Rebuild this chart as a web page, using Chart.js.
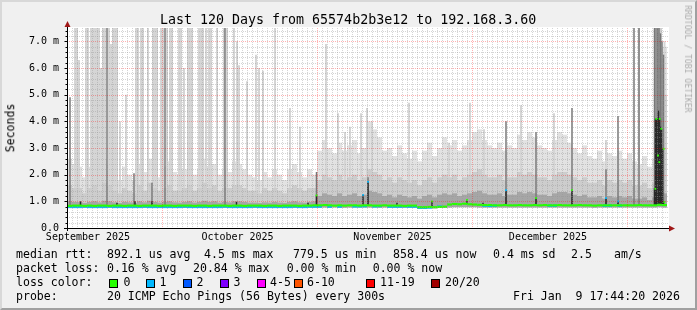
<!DOCTYPE html>
<html><head><meta charset="utf-8">
<script src="https://cdn.jsdelivr.net/npm/chart.js@4"></script>
<style>
html,body{margin:0;padding:0;background:#f0f0f0;}
#wrap{position:relative;width:697px;height:310px;overflow:hidden;background:#f0f0f0;}
#frame{position:absolute;left:0;top:0;width:697px;height:310px;box-sizing:border-box;border-top:2px solid #d8d8d8;border-left:2px solid #d8d8d8;border-right:2px solid #a0a0a0;border-bottom:2px solid #a0a0a0;pointer-events:none;}
canvas{position:absolute;left:0;top:0;}
.t{position:absolute;font-family:"DejaVu Sans Mono",monospace;white-space:pre;color:#000;line-height:1;}
.lg{font-size:11.56px;}
.box{position:absolute;width:7px;height:7px;border:1px solid #000;}
</style></head>
<body><div id="wrap">
<canvas id="c" width="697" height="310"></canvas>
<div class="t" style="left:160px;top:13px;font-size:13.3px;">Last 120 Days from 65574b2b3e12 to 192.168.3.60</div>
<div class="t" style="left:10.5px;top:127.5px;font-size:11.56px;transform:translate(-50%,-50%) rotate(-90deg);">Seconds</div>
<div class="t" style="left:688px;top:58.5px;font-size:8.1px;color:#ababab;transform:translate(-50%,-50%) rotate(90deg);">RRDTOOL / TOBI OETIKER</div>
<div id="legend"></div>
<div id="frame"></div>
</div>
<script>
// ---------- data (values in milliseconds, x in days since start of the 120-day window) ----------
const nDays = 120;
const monthLabels = ['September 2025','October 2025','November 2025','December 2025'];
const monthLabelDay = [4.2, 34.1, 65.1, 96.2];
const monthLineDay = [19, 50, 81, 112];
const yTickValues = [0,1,2,3,4,5,6,7];
const yTickLabels = ['0.0','1.0 m','2.0 m','3.0 m','4.0 m','5.0 m','6.0 m','7.0 m'];

const minRtt = [
0.77,0.76,0.77,0.77,0.76,0.77,0.76,0.77,0.77,0.76, 0.77,0.76,0.77,0.77,0.76,0.77,0.77,0.76,0.77,0.77,
0.76,0.77,0.77,0.76,0.77,0.77,0.76,0.77,0.77,0.76, 0.77,0.77,0.76,0.77,0.77,0.76,0.77,0.77,0.76,0.77,
0.77,0.76,0.77,0.77,0.76,0.77,0.77,0.76,0.77,0.77, 0.77,0.77,0.76,0.77,0.77,0.76,0.77,0.77,0.77,0.77,
0.77,0.77,0.76,0.77,0.76,0.76,0.76,0.76,0.76,0.76, 0.74,0.74,0.74,0.74,0.75,0.75,0.77,0.78,0.78,0.78,
0.78,0.78,0.77,0.77,0.77,0.77,0.77,0.77,0.77,0.77, 0.77,0.77,0.77,0.77,0.77,0.77,0.77,0.77,0.77,0.77,
0.77,0.77,0.77,0.77,0.77,0.76,0.77,0.77,0.77,0.77, 0.77,0.77,0.77,0.77,0.77,0.77,0.77,0.77,0.78,0.77];
const hazeTop = [
2.6,2.4,2.3,1.9,2.3,2.5,2.2,2.6,2.4,2.0, 1.8,2.3,2.0,1.8,2.4,2.1,2.6,2.2,1.9,2.3,
2.5,2.1,2.0,2.2,2.4,2.0,2.2,2.6,2.3,2.4, 2.0,2.2,2.1,2.5,2.4,2.2,2.0,1.9,1.8,2.1,
1.9,2.2,2.0,1.8,2.2,2.4,2.1,1.9,2.2,2.0, 2.9,3.3,3.0,2.8,3.2,2.9,3.1,3.3,2.8,3.0,
4.0,3.7,3.4,2.9,3.0,2.7,3.1,2.8,2.6,2.9, 2.5,2.9,3.2,2.7,3.0,3.4,3.1,3.3,2.9,3.1,
3.3,3.6,3.7,3.3,3.1,3.0,3.2,2.9,3.1,3.0, 3.5,3.3,3.6,3.4,3.1,3.0,2.9,3.3,3.6,3.5,
3.2,3.0,2.8,3.1,2.7,2.6,2.9,2.5,2.8,2.7, 2.9,2.6,2.8,2.5,2.4,2.7,2.3,2.6,7.5,6.8];
const midTop = [
1.6,1.5,1.5,1.3,1.5,1.6,1.4,1.7,1.6,1.4, 1.3,1.5,1.4,1.3,1.6,1.4,1.7,1.5,1.4,1.5,
1.6,1.4,1.4,1.5,1.6,1.4,1.5,1.7,1.5,1.6, 1.4,1.5,1.5,1.6,1.6,1.5,1.4,1.4,1.3,1.5,
1.4,1.5,1.4,1.3,1.5,1.6,1.5,1.4,1.5,1.5, 1.8,2.0,1.9,1.8,2.0,1.8,1.9,2.0,1.8,1.9,
2.2,2.1,2.0,1.8,1.9,1.7,1.9,1.8,1.7,1.8, 1.6,1.8,1.9,1.7,1.9,2.0,1.9,2.0,1.8,1.9,
2.0,2.1,2.2,2.0,1.9,1.9,2.0,1.8,1.9,1.9, 2.1,2.0,2.1,2.0,1.9,1.9,1.8,2.0,2.1,2.1,
2.0,1.9,1.8,1.9,1.7,1.7,1.8,1.6,1.8,1.7, 1.8,1.7,1.8,1.6,1.6,1.7,1.5,1.7,7.5,5.0];
const denseTop = [
1.00,0.98,0.97,0.94,0.98,1.00,0.96,1.02,1.00,0.96, 0.94,0.98,0.96,0.94,1.00,0.96,1.02,0.98,0.95,0.98,
1.00,0.96,0.95,0.98,1.00,0.95,0.98,1.02,0.98,1.00, 0.95,0.98,0.96,1.00,1.00,0.98,0.95,0.95,0.94,0.96,
0.95,0.98,0.95,0.94,0.98,1.00,0.96,0.95,0.98,1.00, 1.20,1.30,1.25,1.20,1.30,1.20,1.25,1.30,1.20,1.25,
1.40,1.35,1.30,1.20,1.25,1.15,1.25,1.20,1.15,1.20, 1.10,1.20,1.25,1.15,1.25,1.30,1.25,1.30,1.20,1.25,
1.30,1.35,1.40,1.30,1.25,1.25,1.30,1.20,1.25,1.25, 1.35,1.30,1.35,1.30,1.25,1.25,1.20,1.30,1.35,1.35,
1.30,1.25,1.20,1.25,1.15,1.15,1.20,1.10,1.20,1.15, 1.20,1.15,1.20,1.10,1.10,1.15,1.05,1.15,4.10,1.30];
// median rtt of samples with 0 lost pings, and of samples with 1 lost ping (null = none that day)
const median0 = [
0.83,0.84,0.84,0.83,0.84,0.83,0.84,0.84,0.83,0.84, 0.84,0.83,0.84,0.84,0.83,0.84,0.84,0.84,0.83,0.84,
0.84,0.83,0.84,0.84,0.84,0.83,0.84,0.84,0.83,0.84, 0.84,0.84,0.83,0.84,0.84,0.83,0.84,0.84,0.84,0.83,
0.84,0.84,0.83,0.84,0.84,0.84,0.83,0.84,0.84,0.85, 0.85,0.86,0.85,0.84,0.85,0.84,0.85,0.85,0.84,0.85,
0.85,0.84,0.84,0.85,0.84,0.84,0.84,0.83,0.84,0.84, 0.78,0.78,0.79,0.78,0.79,0.80,0.88,0.90,0.89,0.91,
0.89,0.88,0.87,0.86,0.86,0.85,0.85,0.86,0.85,0.85, 0.86,0.85,0.85,0.86,0.85,0.86,0.85,0.85,0.86,0.85,
0.85,0.85,0.86,0.85,0.85,0.84,0.85,0.85,0.85,0.85, 0.85,0.85,0.85,0.85,0.86,0.85,0.85,0.85,0.87,0.86];
const median1 = [
0.79,0.79,0.79,0.80,0.79,0.79,0.79,0.79,0.80,0.79, 0.79,0.79,0.79,0.79,0.79,0.80,0.79,0.79,0.79,0.79,
0.79,0.79,0.79,0.80,0.79,0.79,0.79,0.79,0.79,0.79, 0.79,0.80,0.79,0.79,0.79,0.79,0.79,0.80,0.79,0.79,
0.79,0.79,0.79,0.79,0.79,0.80,0.79,0.79,0.80,0.80, 0.80,null,0.80,null,0.80,null,null,0.81,0.81,0.82,
null,0.81,0.82,null,0.80,0.80,0.80,0.81,0.80,0.80, 0.76,0.76,0.77,null,0.80,null,null,null,null,null,
null,null,null,0.84,0.83,0.84,null,null,null,null, null,null,null,null,null,null,0.84,0.84,null,null,
null,null,null,null,null,null,null,0.84,0.84,null, 0.84,null,null,null,null,null,null,null,null,null];

// isolated tall light-smoke spikes
const spikeDay = [1.6,2.0,2.4,3.8,4.2,4.8,5.2,5.6,6.0,6.4,6.8,7.2,7.6,8.4,8.8,9.2,9.6,10.0,10.6,11.8,
13.8,14.2,14.8,15.2,16.2,17.2,17.6,18.0,18.8,19.2,20.0,20.6,21.0,22.4,22.8,23.4,24.2,24.6,25.0,26.4,
26.8,27.2,27.8,28.4,28.8,30.0,31.4,32.0,33.4,34.0,34.4,36.0,37.8,38.4,39.2,41.6,44.6,46.6,51.8,54.2,
55.6,56.6,58.8,60.0,61.0,68.4,76.4,80.6,83.4,90.8,97.4,107.8,114.4,119.5];
const spikeTop = [7.5,7.5,6.3,7.5,7.5,7.5,7.5,7.5,7.5,7.5,6.0,7.5,7.5,7.5,6.9,7.5,7.5,7.5,4.0,5.0,
7.5,7.5,7.5,7.5,7.5,7.5,7.5,7.5,7.5,7.5,7.5,7.5,7.5,7.5,7.5,6.0,7.5,7.5,7.5,7.5,
7.5,7.5,7.5,7.5,7.5,7.5,7.5,7.5,7.5,7.0,6.1,5.5,6.5,6.0,5.9,7.5,4.5,3.8,6.9,4.3,
3.6,3.8,4.3,4.5,4.0,4.7,3.2,4.7,3.7,4.6,4.3,3.3,7.5,7.0];
// thin darker smoke lines
const darkDay = [0.6,8.0,13.4,17.0,19.6,31.6,49.9,60.2,87.8,93.8,101.0,107.8,110.2,113.4,114.4,
117.5,117.8,118.1,118.4,118.7,119.0,119.3];
const darkTop = [4.9,7.5,2.05,1.7,7.5,7.5,2.1,1.9,4.0,3.6,4.5,2.2,4.2,7.5,7.5,
7.5,7.5,7.5,7.5,7.3,7.0,6.5];
// very dense (near-black) short smoke columns
const coreDay = [2.7,10.0,13.6,17.0,33.9,48.2,49.9,52.0,59.2,60.2,66.0,73.0,80.0,83.2,87.8,93.8,101.0,
107.8,110.2,117.5,117.7,117.9,118.1,118.3,118.5,118.7,118.9,119.1,119.3];
const coreTop = [1.0,0.95,1.0,1.0,0.98,0.95,1.22,0.9,1.24,1.73,0.95,1.0,1.05,0.95,1.42,1.12,1.42,
1.12,1.0,1.5,4.1,4.1,4.1,4.4,4.1,3.8,3.7,3.0,1.0];
// elevated median samples and their lost-ping count
const markDay = [49.9,59.2,60.2,73.0,80.0,87.8,93.8,101.0,107.8,110.2,117.66,117.86,118.2,118.46,118.54,118.86,119.34,119.46];
const markRtt = [1.22,1.24,1.73,1.0,1.05,1.42,1.12,1.42,1.12,1.0,1.47,4.09,2.72,2.47,4.09,3.72,2.97,0.97];
const markLoss = [0,1,1,0,0,1,0,0,1,1,0,0,0,0,0,0,0,0];

const lossLabels = ['0','1','2','3','4-5','6-10','11-19','20/20'];
const lossColors = ['#26ff00','#00b8ff','#0059ff','#7e00ff','#ff00ff','#ff5500','#ff0000','#a10000'];

// ---------- legend (HTML text) ----------
const lg = document.getElementById('legend');
function txt(s, x, top){ const d=document.createElement('div'); d.className='t lg'; d.textContent=s; d.style.left=x+'px'; d.style.top=top+'px'; lg.appendChild(d); }
const L1=248.7, L2=262.7, L3=276.7, L4=290.7;
txt('median rtt:',16,L1); txt('892.1 us avg',107,L1); txt('4.5 ms max',204,L1); txt('779.5 us min',293,L1);
txt('858.4 us now',393,L1); txt('0.4 ms sd',493,L1); txt('2.5',571,L1); txt('am/s',614,L1);
txt('packet loss:',16,L2); txt('0.16 % avg',107,L2); txt('20.84 % max',193,L2); txt('0.00 % min',286.7,L2); txt('0.00 % now',372.7,L2);
txt('loss color:',16,L3);
const boxX=[109,146,183,219.5,257,293.5,366,431], labX=[123.5,159.5,196.5,233.5,270,307,380,445];
lossLabels.forEach((l,i)=>{ const b=document.createElement('div'); b.className='box'; b.style.left=boxX[i]+'px'; b.style.top='278.5px'; b.style.background=lossColors[i]; lg.appendChild(b); txt(l,labX[i],L3); });
txt('probe:',16,L4); txt('20 ICMP Echo Pings (56 Bytes) every 300s',107,L4); txt('Fri Jan  9 17:44:20 2026',513,L4);

// ---------- chart ----------
const PLOT_L=67, PLOT_R=667, PLOT_T=28, PLOT_B=228;
const dayPx=(PLOT_R-PLOT_L)/nDays;
const daily = (top, base)=> top.map((v,i)=> v==null?null:({x:i+0.5, y:[base[i], v]})).filter(p=>p);
const band = (arr, h)=> arr.map((v,i)=> v==null?null:({x:i+0.5, y:[v-h, v+h]})).filter(p=>p);
const medianAt = d => median0[Math.min(nDays-1, Math.floor(d))];

const gridPlugin = {
  id:'rrdgrid',
  beforeDatasetsDraw(chart){
    const {ctx, chartArea:a}=chart;
    ctx.save(); ctx.fillStyle='#ffffff'; ctx.fillRect(a.left, a.top-1, a.right-a.left+2, a.bottom-a.top+1); ctx.restore();
  },
  afterDatasetsDraw(chart){
    const {ctx, chartArea:a, scales:{x,y}}=chart;
    ctx.save(); ctx.lineWidth=1;
    const ln=(x1,y1,x2,y2)=>{ctx.beginPath();ctx.moveTo(x1,y1);ctx.lineTo(x2,y2);ctx.stroke();};
    // minor grid
    ctx.setLineDash([1,1]); ctx.strokeStyle='rgba(150,150,150,0.4)';
    for(let d=1; d<nDays; d++){ if(monthLineDay.includes(d)) continue; const px=Math.round(x.getPixelForValue(d))+0.5; ln(px,a.top,px,a.bottom); }
    for(let k=1; k*0.2<7.5; k++){ if(k%5===0) continue; const py=Math.round(y.getPixelForValue(k*0.2))+0.5; ln(a.left,py,a.right+2,py); }
    // major grid
    ctx.setLineDash([1,1]); ctx.strokeStyle='rgba(255,0,0,0.3)';
    monthLineDay.forEach(d=>{ const px=Math.round(x.getPixelForValue(d))+0.5; ln(px,a.top,px,a.bottom); });
    yTickValues.forEach(v=>{ if(v===0) return; const py=Math.round(y.getPixelForValue(v))+0.5; ln(a.left,py,a.right+2,py); });
    // axes
    ctx.setLineDash([]); ctx.strokeStyle='#000';
    const x0=Math.round(a.left)+0.5, y0=Math.round(a.bottom)+0.5;
    ln(x0, a.bottom+3, x0, a.top-2);
    ln(a.left-3, y0, a.right+4, y0);
    for(let k=1; k*0.2<7.5; k++){ const py=Math.round(y.getPixelForValue(k*0.2))+0.5; ln(x0-(k%5===0?3:2),py,x0,py); }
    ctx.fillStyle='#a01818';
    ctx.beginPath(); ctx.moveTo(x0-3,a.top-1); ctx.lineTo(x0+3,a.top-1); ctx.lineTo(x0,a.top-7); ctx.closePath(); ctx.fill();
    ctx.beginPath(); ctx.moveTo(a.right+2,y0-3); ctx.lineTo(a.right+2,y0+3); ctx.lineTo(a.right+8,y0); ctx.closePath(); ctx.fill();
    ctx.restore();
  }
};

Chart.defaults.font.family='"DejaVu Sans Mono", monospace';
Chart.defaults.color='#000';

const barDefaults = {type:'bar', grouped:false, borderWidth:0, borderSkipped:false, inflateAmount:0};
new Chart(document.getElementById('c'), {
  type:'bar',
  data:{datasets:[
    {...barDefaults, label:'haze', order:10, barThickness:dayPx, backgroundColor:'#e2e2e2', data:daily(hazeTop,minRtt)},
    {...barDefaults, label:'spikes', order:9, barThickness:2, backgroundColor:'#d5d5d5',
      data:spikeDay.map((d,i)=>({x:d, y:[minRtt[Math.floor(d)], spikeTop[i]]}))},
    {...barDefaults, label:'mid', order:8, barThickness:dayPx, backgroundColor:'#cdcdcd', data:daily(midTop,minRtt)},
    {...barDefaults, label:'dense', order:7, barThickness:dayPx, backgroundColor:'#a6a6a6', data:daily(denseTop,minRtt)},
    {...barDefaults, label:'dark', order:6, barThickness:1.5, backgroundColor:'#787878',
      data:darkDay.map((d,i)=>({x:d, y:[medianAt(d), darkTop[i]]}))},
    {...barDefaults, label:'core', order:5, barThickness:1.5, backgroundColor:'#2a2a2a',
      data:coreDay.map((d,i)=>({x:d, y:[medianAt(d), coreTop[i]]}))},
    {...barDefaults, label:'median 1 loss', order:4, barThickness:dayPx, backgroundColor:lossColors[1], data:band(median1,0.045)},
    {...barDefaults, label:'median 0 loss', order:3, barThickness:dayPx, backgroundColor:lossColors[0], data:band(median0,0.04)},
    {type:'line', label:'marks', order:2, showLine:false, pointStyle:'rect', pointRadius:1.3, pointBorderWidth:0,
      pointBackgroundColor:markLoss.map(l=>lossColors[l]), data:markDay.map((d,i)=>({x:d,y:markRtt[i]}))}
  ]},
  options:{
    responsive:false, animation:false, devicePixelRatio:1,
    layout:{padding:{left:0,right:697-PLOT_R,top:PLOT_T,bottom:0}},
    plugins:{legend:{display:false}, tooltip:{enabled:false}},
    scales:{
      x:{type:'linear', min:0, max:nDays, offset:false,
        grid:{display:false, drawTicks:false}, border:{display:false},
        afterFit:s=>{s.height=310-PLOT_B;},
        afterBuildTicks:s=>{s.ticks=monthLabelDay.map(v=>({value:v}));},
        ticks:{autoSkip:false, maxRotation:0, padding:3, font:{size:10}, color:'#000',
          callback:(v,i)=>monthLabels[i]}},
      y:{type:'linear', min:0, max:7.5,
        grid:{display:false, drawTicks:false}, border:{display:false},
        afterFit:s=>{s.width=PLOT_L;},
        afterBuildTicks:s=>{s.ticks=yTickValues.map(v=>({value:v}));},
        ticks:{padding:8, font:{size:10}, color:'#000', callback:(v,i)=>yTickLabels[i]}}
    }
  },
  plugins:[gridPlugin]
});
</script>
</body></html>
